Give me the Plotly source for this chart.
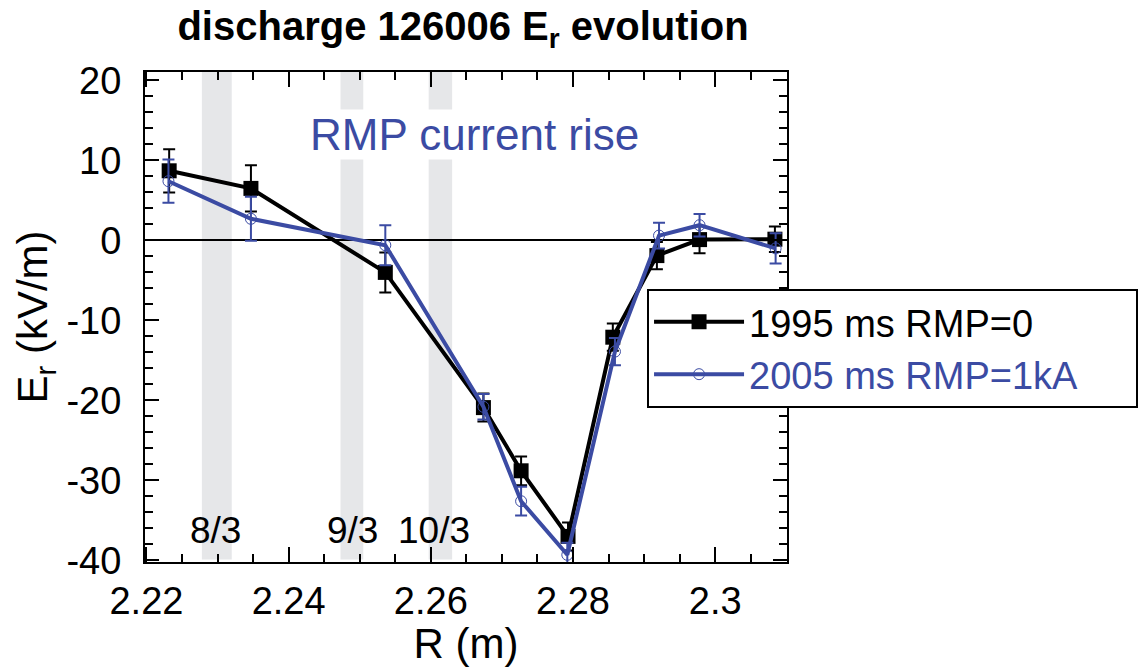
import plotly.graph_objects as go

# Data
R_1995 = [2.2232, 2.2347, 2.2536, 2.2674, 2.2727, 2.2793, 2.2856, 2.2918, 2.2978, 2.3084]
Er_1995 = [8.7, 6.5, -4.0, -20.9, -28.8, -37.0, -12.1, -1.9, 0.1, 0.15]
err_1995 = [2.7, 2.9, 2.5, 1.75, 1.8, 1.75, 1.7, 1.7, 1.7, 1.6]

R_2005 = [2.2231, 2.2347, 2.2536, 2.2674, 2.2727, 2.2792, 2.2859, 2.2921, 2.2978, 2.3085]
Er_2005 = [7.4, 2.7, -0.6, -20.8, -32.6, -39.3, -13.9, 0.6, 1.9, -1.0]
err_2005 = [2.7, 2.75, 2.5, 1.6, 1.8, 1.5, 1.7, 1.6, 1.4, 1.9]

x_tickvals = [2.22, 2.24, 2.26, 2.28, 2.30]
x_ticktext = ["2.22", "2.24", "2.26", "2.28", "2.3"]
y_tickvals = [-40, -30, -20, -10, 0, 10, 20]
y_ticktext = ["-40", "-30", "-20", "-10", "0", "10", "20"]

band_x0 = [2.2278, 2.2473, 2.2597]
band_x1 = [2.2320, 2.2505, 2.2630]
band_labels = ["8/3", "9/3", "10/3"]
band_label_x = [2.2297, 2.2490, 2.2604]
band_label_y = -36.2

BLUE = "#3b4ba3"
FONT = "Liberation Sans, Arial, Helvetica, sans-serif"
PAD = "&nbsp;" * 5

fig = go.Figure()

fig.add_trace(go.Scatter(
    x=R_1995, y=Er_1995, mode="lines+markers",
    name="1995 ms RMP=0",
    line=dict(color="black", width=4),
    marker=dict(symbol="square", size=15, color="black"),
    error_y=dict(type="data", array=err_1995, color="black", thickness=2, width=6),
))
fig.add_trace(go.Scatter(
    x=R_2005, y=Er_2005, mode="lines+markers",
    name='<span style="color:%s">2005 ms RMP=1kA</span>%s' % (BLUE, PAD),
    line=dict(color=BLUE, width=4),
    marker=dict(symbol="circle-open", size=11, color=BLUE, line=dict(width=1, color=BLUE)),
    error_y=dict(type="data", array=err_2005, color=BLUE, thickness=2, width=6),
))

shapes = []
for a, b in zip(band_x0, band_x1):
    shapes.append(dict(type="rect", xref="x", yref="paper", x0=a, x1=b, y0=0.005, y1=1,
                       fillcolor="#e6e7e9", line=dict(width=0), layer="below"))

annotations = []
for lx, lab in zip(band_label_x, band_labels):
    annotations.append(dict(x=lx, y=band_label_y, xref="x", yref="y", text=lab,
                            showarrow=False, font=dict(size=37, color="black", family=FONT)))
annotations.append(dict(x=2.2662, y=13.2, xref="x", yref="y", text="RMP current rise",
                        showarrow=False, bgcolor="white", borderpad=0,
                        font=dict(size=44, color=BLUE, family=FONT)))

fig.update_layout(
    width=1138, height=667,
    margin=dict(l=145, r=351, t=72, b=105, autoexpand=False),
    paper_bgcolor="white", plot_bgcolor="white",
    font=dict(family=FONT, size=37, color="black"),
    title=dict(text="<b>discharge 126006 E<sub>r</sub> evolution</b>",
               x=463 / 1138, xanchor="center",
               y=1 - 12 / 667, yanchor="top", yref="container",
               font=dict(size=40, family=FONT, color="black")),
    showlegend=True,
    legend=dict(x=0.782, y=0.558, xanchor="left", yanchor="top",
                bordercolor="black", borderwidth=2, bgcolor="white",
                font=dict(size=38, family=FONT, color="black"),
                itemwidth=90, tracegroupgap=0),
    shapes=shapes,
    annotations=annotations,
)

fig.update_xaxes(
    range=[2.2198, 2.3101], tickvals=x_tickvals, ticktext=x_ticktext,
    ticks="inside", ticklen=15, tickwidth=2, tickcolor="black",
    showline=True, linecolor="black", linewidth=2, mirror="ticks",
    showgrid=False, zeroline=False, ticklabelstandoff=4, automargin=False,
    minor=dict(dtick=0.005, tick0=2.22, ticks="inside", ticklen=8, tickwidth=2, tickcolor="black", showgrid=False),
    title=dict(text="R (m)", font=dict(size=42, family=FONT), standoff=6),
    tickfont=dict(size=38),
)
fig.update_yaxes(
    range=[-40.2, 21.05], tickvals=y_tickvals, ticktext=y_ticktext,
    ticks="inside", ticklen=14, tickwidth=2, tickcolor="black",
    showline=True, linecolor="black", linewidth=2, mirror="ticks",
    showgrid=False, zeroline=True, zerolinecolor="black", zerolinewidth=2,
    ticklabelstandoff=14, automargin=False,
    minor=dict(dtick=2, tick0=0, ticks="inside", ticklen=8, tickwidth=2, tickcolor="black", showgrid=False),
    title=dict(text="E<sub>r</sub> (kV/m)", font=dict(size=42, family=FONT), standoff=6),
    tickfont=dict(size=38),
)

fig.write_html("out.html")
